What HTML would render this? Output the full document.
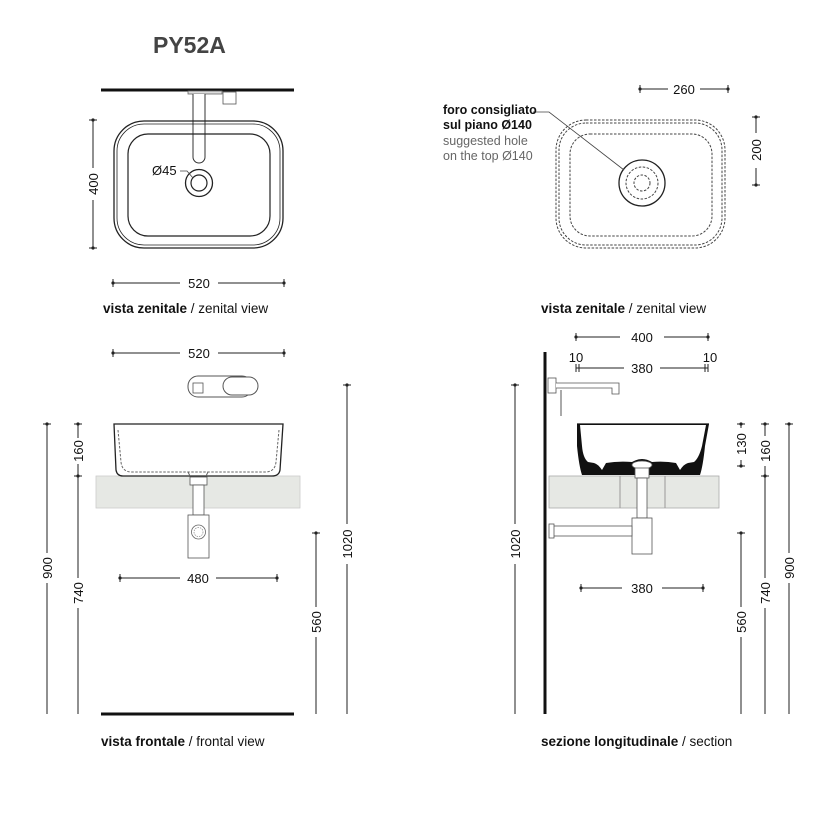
<!DOCTYPE html>
<html><head><meta charset="utf-8"><style>
html,body{margin:0;padding:0;background:#fff;}
svg{display:block;font-family:"Liberation Sans",sans-serif;}
</style></head><body>
<svg width="835" height="838" viewBox="0 0 835 838" xmlns="http://www.w3.org/2000/svg">
<defs>
<g id="tk"><line x1="-4" y1="0" x2="4" y2="0" stroke="#222" stroke-width="1"/><circle r="1.6" fill="#222"/></g>
<g id="tkv"><line x1="0" y1="-4" x2="0" y2="4" stroke="#222" stroke-width="1"/><circle r="1.6" fill="#222"/></g>
</defs>
<text x="153" y="53" font-size="23" font-weight="bold" fill="#444">PY52A</text>

<!-- TOP LEFT -->
<line x1="101" y1="90" x2="294" y2="90" stroke="#111" stroke-width="3"/>
<rect x="188" y="91" width="34" height="3" fill="#ddd" stroke="#666" stroke-width="0.8"/>
<path d="M193 94 V157 a6 6 0 0 0 12 0 V94" fill="#fff" stroke="#333" stroke-width="1"/>
<rect x="223" y="92" width="13" height="12" fill="#fff" stroke="#555" stroke-width="0.8"/>
<rect x="114" y="121" width="169" height="127" rx="30" fill="none" stroke="#222" stroke-width="1.3"/>
<rect x="117" y="124" width="163" height="121" rx="27" fill="none" stroke="#222" stroke-width="0.8"/>
<rect x="128" y="134" width="142" height="102" rx="20" fill="none" stroke="#222" stroke-width="1.2"/>
<circle cx="199" cy="183" r="13.5" fill="#fff" stroke="#222" stroke-width="1.3"/>
<circle cx="199" cy="183" r="8" fill="#fff" stroke="#222" stroke-width="1.2"/>
<path d="M180 171 H187 L193 178" fill="none" stroke="#444" stroke-width="0.8"/>
<text x="152" y="175" font-size="13" fill="#111">Ø45</text>
<line x1="93" y1="120" x2="93" y2="168" stroke="#222"/><line x1="93" y1="200" x2="93" y2="248" stroke="#222"/>
<use href="#tk" x="93" y="120"/><use href="#tk" x="93" y="248"/>
<text transform="translate(98,184) rotate(-90)" text-anchor="middle" font-size="13" fill="#111">400</text>
<line x1="113" y1="283" x2="180" y2="283" stroke="#222"/><line x1="218" y1="283" x2="284" y2="283" stroke="#222"/>
<use href="#tkv" x="113" y="283"/><use href="#tkv" x="284" y="283"/>
<text x="199" y="288" text-anchor="middle" font-size="13" fill="#111">520</text>
<text x="103" y="313" font-size="13.5" fill="#111"><tspan font-weight="bold">vista zenitale</tspan> / zenital view</text>

<!-- TOP RIGHT -->
<g fill="none" stroke="#444" stroke-width="1" stroke-dasharray="2.5,1.5">
<rect x="556" y="120" width="169" height="128" rx="30"/>
<rect x="559" y="123" width="163" height="122" rx="27"/>
<rect x="570" y="134" width="142" height="102" rx="20"/>
<circle cx="642" cy="183" r="16"/>
<circle cx="642" cy="183" r="8"/>
</g>
<circle cx="642" cy="183" r="23" fill="none" stroke="#222" stroke-width="1.3"/>
<path d="M533 112 H549 L624 170" fill="none" stroke="#444" stroke-width="0.8"/>
<text font-size="12.5" fill="#111" font-weight="bold"><tspan x="443" y="114">foro consigliato</tspan><tspan x="443" y="129">sul piano Ø140</tspan></text>
<text font-size="12.5" fill="#666"><tspan x="443" y="145">suggested hole</tspan><tspan x="443" y="160">on the top Ø140</tspan></text>
<line x1="640" y1="89" x2="668" y2="89" stroke="#222"/><line x1="700" y1="89" x2="728" y2="89" stroke="#222"/>
<use href="#tkv" x="640" y="89"/><use href="#tkv" x="728" y="89"/>
<text x="684" y="94" text-anchor="middle" font-size="13" fill="#111">260</text>
<line x1="756" y1="117" x2="756" y2="133" stroke="#222"/><line x1="756" y1="168" x2="756" y2="185" stroke="#222"/>
<use href="#tk" x="756" y="117"/><use href="#tk" x="756" y="185"/>
<text transform="translate(761,150) rotate(-90)" text-anchor="middle" font-size="13" fill="#111">200</text>
<text x="541" y="313" font-size="13.5" fill="#111"><tspan font-weight="bold">vista zenitale</tspan> / zenital view</text>

<!-- BOTTOM LEFT -->
<line x1="113" y1="353" x2="180" y2="353" stroke="#222"/><line x1="218" y1="353" x2="284" y2="353" stroke="#222"/>
<use href="#tkv" x="113" y="353"/><use href="#tkv" x="284" y="353"/>
<text x="199" y="358" text-anchor="middle" font-size="13" fill="#111">520</text>
<rect x="188" y="376" width="64" height="21" rx="10" fill="#fff" stroke="#555"/>
<rect x="223" y="377" width="35" height="18" rx="9" fill="#fff" stroke="#555"/>
<rect x="193" y="383" width="10" height="10" fill="#fff" stroke="#555" stroke-width="0.8"/>
<rect x="96" y="476" width="204" height="32" fill="#e6e8e4" stroke="#ccc" stroke-width="0.8"/>
<path d="M114 424 H283 L280 470 Q279 476 272 476 H123 Q117 476 116 470 Z" fill="#fff" stroke="#222" stroke-width="1.3"/>
<path d="M118 430 L121 462 Q122 472 132 472 H265 Q275 472 276 462 L279 430" fill="none" stroke="#666" stroke-dasharray="2.5,1.5"/>
<path d="M188 472 L190 476 M208 472 L206 476" stroke="#666"/>
<rect x="190" y="477" width="17" height="8" fill="#fff" stroke="#555" stroke-width="0.8"/>
<rect x="193" y="485" width="11" height="30" fill="#fff" stroke="#555" stroke-width="0.8"/>
<rect x="188" y="515" width="21" height="43" fill="#fff" stroke="#555" stroke-width="0.8"/>
<circle cx="198.5" cy="532" r="7" fill="none" stroke="#666" stroke-width="0.8"/>
<circle cx="198.5" cy="532" r="4.5" fill="none" stroke="#888" stroke-width="0.7" stroke-dasharray="1.5,1"/>
<line x1="78" y1="424" x2="78" y2="438" stroke="#222"/><line x1="78" y1="464" x2="78" y2="714" stroke="#222"/>
<use href="#tk" x="78" y="424"/><use href="#tk" x="78" y="476"/>
<text transform="translate(83,451) rotate(-90)" text-anchor="middle" font-size="13" fill="#111">160</text>
<rect x="70" y="578" width="16" height="30" fill="#fff"/>
<text transform="translate(83,593) rotate(-90)" text-anchor="middle" font-size="13" fill="#111">740</text>
<line x1="47" y1="424" x2="47" y2="714" stroke="#222"/><use href="#tk" x="47" y="424"/>
<rect x="39" y="553" width="16" height="30" fill="#fff"/>
<text transform="translate(52,568) rotate(-90)" text-anchor="middle" font-size="13" fill="#111">900</text>
<line x1="347" y1="385" x2="347" y2="714" stroke="#222"/><use href="#tk" x="347" y="385"/>
<rect x="339" y="524" width="16" height="40" fill="#fff"/>
<text transform="translate(352,544) rotate(-90)" text-anchor="middle" font-size="13" fill="#111">1020</text>
<line x1="316" y1="533" x2="316" y2="714" stroke="#222"/><use href="#tk" x="316" y="533"/>
<rect x="308" y="607" width="16" height="30" fill="#fff"/>
<text transform="translate(321,622) rotate(-90)" text-anchor="middle" font-size="13" fill="#111">560</text>
<line x1="120" y1="578" x2="180" y2="578" stroke="#222"/><line x1="216" y1="578" x2="277" y2="578" stroke="#222"/>
<use href="#tkv" x="120" y="578"/><use href="#tkv" x="277" y="578"/>
<text x="198" y="583" text-anchor="middle" font-size="13" fill="#111">480</text>
<line x1="101" y1="714" x2="294" y2="714" stroke="#111" stroke-width="3"/>
<text x="101" y="746" font-size="13.5" fill="#111"><tspan font-weight="bold">vista frontale</tspan> / frontal view</text>

<!-- BOTTOM RIGHT -->
<line x1="545" y1="352" x2="545" y2="714" stroke="#111" stroke-width="3"/>
<line x1="576" y1="337" x2="620" y2="337" stroke="#222"/><line x1="664" y1="337" x2="708" y2="337" stroke="#222"/>
<use href="#tkv" x="576" y="337"/><use href="#tkv" x="708" y="337"/>
<text x="642" y="342" text-anchor="middle" font-size="13" fill="#111">400</text>
<line x1="576" y1="368" x2="624" y2="368" stroke="#222"/><line x1="660" y1="368" x2="708" y2="368" stroke="#222"/>
<line x1="576" y1="364" x2="576" y2="372" stroke="#222"/><line x1="579" y1="364" x2="579" y2="372" stroke="#222"/>
<line x1="705" y1="364" x2="705" y2="372" stroke="#222"/><line x1="708" y1="364" x2="708" y2="372" stroke="#222"/>
<text x="642" y="373" text-anchor="middle" font-size="13" fill="#111">380</text>
<text x="576" y="362" text-anchor="middle" font-size="13" fill="#111">10</text>
<text x="710" y="362" text-anchor="middle" font-size="13" fill="#111">10</text>
<rect x="548" y="378" width="8" height="15" fill="#fff" stroke="#555" stroke-width="0.8"/>
<path d="M556 383 H619 V394 H612 V388 H556" fill="#fff" stroke="#555" stroke-width="0.8"/>
<line x1="561" y1="390" x2="561" y2="416" stroke="#555"/>
<rect x="549" y="476" width="170" height="32" fill="#e6e8e4" stroke="#aaa" stroke-width="0.8"/>
<line x1="620" y1="476" x2="620" y2="508" stroke="#999"/><line x1="665" y1="476" x2="665" y2="508" stroke="#999"/>
<path d="M577 424 H709 L705 446 Q703 466 700 475 H582 Q579 466 577 446 Z" fill="#111"/>
<path d="M580 425 H706 L702 446 Q699 458 694 462 L688 463 Q684 464 680 470 L676 463 Q665 461 652 462 Q642 456 632 462 Q618 461 606 463 L602 470 Q598 464 594 463 L588 462 Q583 458 582 446 Z" fill="#fff"/>
<line x1="577" y1="424" x2="709" y2="424" stroke="#111" stroke-width="1.2"/>
<ellipse cx="642" cy="465" rx="10" ry="4" fill="#fff" stroke="#555" stroke-width="0.8"/>
<rect x="635" y="468" width="14" height="10" fill="#fff" stroke="#555" stroke-width="0.8"/>
<rect x="637" y="478" width="10" height="40" fill="#fff" stroke="#555" stroke-width="0.8"/>
<rect x="632" y="518" width="20" height="36" fill="#fff" stroke="#555" stroke-width="0.8"/>
<rect x="551" y="526" width="81" height="10" fill="#fff" stroke="#555" stroke-width="0.8"/>
<rect x="549" y="524" width="5" height="14" fill="#fff" stroke="#555" stroke-width="0.8"/>
<line x1="515" y1="385" x2="515" y2="714" stroke="#222"/><use href="#tk" x="515" y="385"/>
<rect x="507" y="524" width="16" height="40" fill="#fff"/>
<text transform="translate(520,544) rotate(-90)" text-anchor="middle" font-size="13" fill="#111">1020</text>
<line x1="741" y1="424" x2="741" y2="428" stroke="#222"/><line x1="741" y1="460" x2="741" y2="466" stroke="#222"/>
<use href="#tk" x="741" y="424"/><use href="#tk" x="741" y="466"/>
<text transform="translate(746,444) rotate(-90)" text-anchor="middle" font-size="13" fill="#111">130</text>
<line x1="765" y1="424" x2="765" y2="436" stroke="#222"/><line x1="765" y1="466" x2="765" y2="714" stroke="#222"/>
<use href="#tk" x="765" y="424"/><use href="#tk" x="765" y="476"/>
<text transform="translate(770,451) rotate(-90)" text-anchor="middle" font-size="13" fill="#111">160</text>
<rect x="757" y="578" width="16" height="30" fill="#fff"/>
<text transform="translate(770,593) rotate(-90)" text-anchor="middle" font-size="13" fill="#111">740</text>
<line x1="789" y1="424" x2="789" y2="714" stroke="#222"/><use href="#tk" x="789" y="424"/>
<rect x="781" y="553" width="16" height="30" fill="#fff"/>
<text transform="translate(794,568) rotate(-90)" text-anchor="middle" font-size="13" fill="#111">900</text>
<line x1="741" y1="533" x2="741" y2="714" stroke="#222"/><use href="#tk" x="741" y="533"/>
<rect x="733" y="607" width="16" height="30" fill="#fff"/>
<text transform="translate(746,622) rotate(-90)" text-anchor="middle" font-size="13" fill="#111">560</text>
<line x1="581" y1="588" x2="622" y2="588" stroke="#222"/><line x1="662" y1="588" x2="703" y2="588" stroke="#222"/>
<use href="#tkv" x="581" y="588"/><use href="#tkv" x="703" y="588"/>
<text x="642" y="593" text-anchor="middle" font-size="13" fill="#111">380</text>
<text x="541" y="746" font-size="13.5" fill="#111"><tspan font-weight="bold">sezione longitudinale</tspan> / section</text>
</svg>
</body></html>
